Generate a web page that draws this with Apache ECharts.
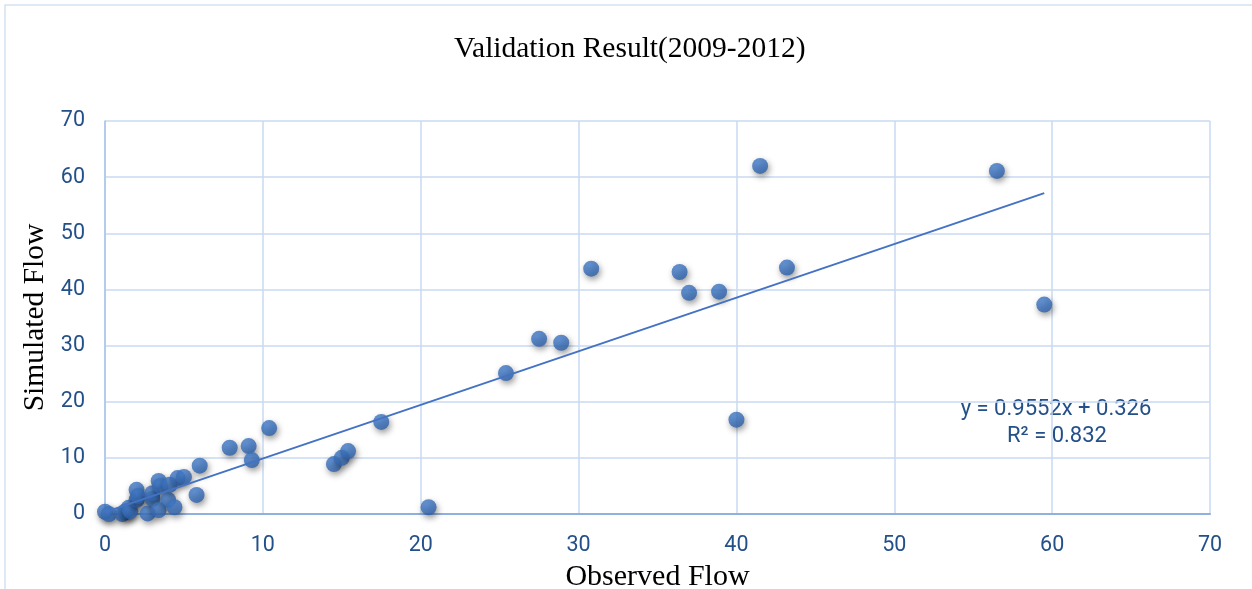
<!DOCTYPE html>
<html>
<head>
<meta charset="utf-8">
<script src="https://cdn.jsdelivr.net/npm/echarts@6/dist/echarts.min.js"></script>
<style>
html,body{margin:0;padding:0;background:#fff;overflow:hidden;}
#chart{width:1252px;height:589px;}
</style>
</head>
<body>
<div id="chart"></div>
<script>
// Observed vs simulated flow
const observed  = [0, 0.25, 1.1, 1.3, 1.5, 1.6, 2.0, 2.0, 2.1, 2.7, 3.0, 3.0, 3.4, 3.4, 3.5, 4.0, 4.1, 4.4, 4.6, 5.0, 5.8, 6.0, 7.9, 9.1, 9.3, 10.4, 14.5, 15.0, 15.4, 17.5, 20.5, 25.4, 27.5, 28.9, 30.8, 36.4, 37.0, 38.9, 40.0, 41.5, 43.2, 56.5, 59.5];
const simulated = [0.4, 0, 0, 0.5, 1.1, 0.5, 2.5, 4.3, 3.2, 0.1, 2.7, 3.7, 0.7, 5.9, 5.0, 2.5, 5.2, 1.2, 6.4, 6.6, 3.4, 8.6, 11.8, 12.1, 9.6, 15.3, 8.9, 10.0, 11.2, 16.4, 1.2, 25.1, 31.2, 30.5, 43.7, 43.1, 39.4, 39.6, 16.8, 62.0, 43.9, 61.1, 37.3];
// Linear trendline as printed on the chart
const trendSlope = 0.9552;
const trendIntercept = 0.326;
const trendLabel = ['y = 0.9552x + 0.326', 'R\u00b2 = 0.832'];
const titleText = 'Validation Result(2009-2012)';
const xName = 'Observed Flow';
const yName = 'Simulated Flow';

const points = observed.map((x, i) => [x, simulated[i]]);
const xMin = Math.min(...observed), xMax = Math.max(...observed);
const trend = [[xMin, trendSlope * xMin + trendIntercept], [xMax, trendSlope * xMax + trendIntercept]];

const tickColor = '#24508a';
const serif = '"Liberation Serif", "DejaVu Serif", serif';
const sans = 'Roboto, "Noto Sans", sans-serif';

const chart = echarts.init(document.getElementById('chart'), null, {renderer: 'canvas'});
chart.setOption({
  animation: false,
  backgroundColor: '#ffffff',
  title: {
    text: titleText,
    left: 449,
    top: 29,
    textStyle: {fontFamily: serif, fontSize: 29.5, fontWeight: 'normal', color: '#000'}
  },
  grid: {left: 105, right: 42, top: 121, bottom: 75, containLabel: false, outerBoundsMode: 'none'},
  xAxis: {
    type: 'value', min: 0, max: 70, interval: 10,
    name: xName, nameLocation: 'middle', nameGap: 44,
    nameTextStyle: {fontFamily: serif, fontSize: 30, color: '#000'},
    axisLine: {show: true, lineStyle: {color: '#8eb1e0', width: 2}},
    axisTick: {show: false},
    axisLabel: {margin: 21, fontFamily: sans, fontSize: 21.5, color: tickColor},
    splitLine: {show: true, lineStyle: {color: '#c9daf0', width: 1.5}}
  },
  yAxis: {
    type: 'value', min: 0, max: 70, interval: 10,
    name: yName, nameLocation: 'middle', nameGap: 52, nameRotate: 90,
    nameTextStyle: {fontFamily: serif, fontSize: 29.5, color: '#000'},
    axisLine: {show: true, lineStyle: {color: '#a8c4ea', width: 1.5}},
    axisTick: {show: false},
    axisLabel: {margin: 20, fontFamily: sans, fontSize: 21.5, color: tickColor},
    splitLine: {show: true, lineStyle: {color: '#c9daf0', width: 1.5}}
  },
  graphic: [
    {type: 'rect', shape: {x: 5, y: 5, width: 1300, height: 700}, style: {fill: null, stroke: '#d4e2f4', lineWidth: 1.5}, silent: true, z: -10},
    {type: 'text', x: 1056, y: 398, style: {text: trendLabel[0], font: '22px ' + sans, fill: tickColor, align: 'center'}},
    {type: 'text', x: 1057, y: 425, style: {text: trendLabel[1], font: '22px ' + sans, fill: tickColor, align: 'center'}}
  ],
  series: [
    {
      type: 'scatter', data: points, symbol: 'circle', symbolSize: 16, clip: false, z: 3,
      itemStyle: {
        color: new echarts.graphic.RadialGradient(0.4, 0.35, 0.7, [
          {offset: 0, color: '#4680cf'}, {offset: 1, color: '#2c60aa'}
        ]),
        shadowColor: 'rgba(0,0,0,0.5)', shadowBlur: 6, shadowOffsetX: 1.5, shadowOffsetY: 3
      }
    },
    {
      type: 'line', data: trend, symbol: 'none', z: 4,
      lineStyle: {color: '#4472c4', width: 2}
    }
  ]
});
</script>
</body>
</html>
